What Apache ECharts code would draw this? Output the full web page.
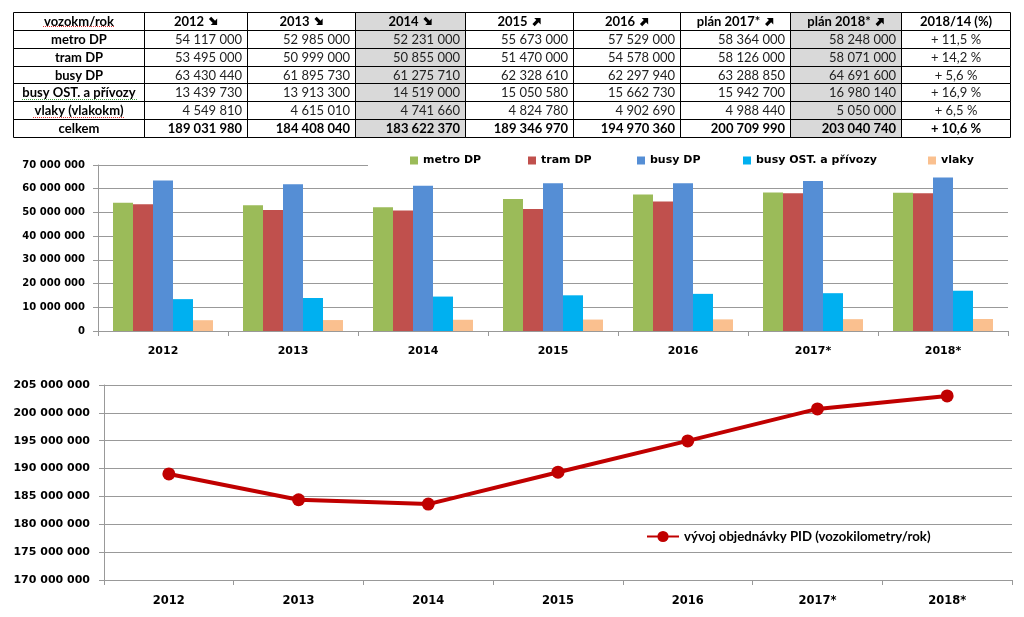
<!DOCTYPE html>
<html>
<head>
<meta charset="utf-8">
<script src="https://cdn.jsdelivr.net/npm/echarts@6/dist/echarts.min.js"></script>
<style>html,body{margin:0;padding:0;background:#fff}#c{width:1024px;height:617px}</style>
</head>
<body>
<div id="c"></div>
<script>
const categories = ['2012','2013','2014','2015','2016','2017*','2018*'];
const tableHeaders = ['vozokm/rok','2012','2013','2014','2015','2016','plán 2017*','plán 2018*','2018/14 (%)'];
const headerTrend = ['', 'down','down','down','up','up','up','up',''];
const rowLabels = ['metro DP','tram DP','busy DP','busy OST. a přívozy','vlaky (vlakokm)','celkem'];
const metroDP = [54117000,52985000,52231000,55673000,57529000,58364000,58248000];
const tramDP  = [53495000,50999000,50855000,51470000,54578000,58126000,58071000];
const busyDP  = [63430440,61895730,61275710,62328610,62297940,63288850,64691600];
const busyOST = [13439730,13913300,14519000,15050580,15662730,15942700,16980140];
const vlaky   = [4549810,4615010,4741660,4824780,4902690,4988440,5050000];
const celkem  = [189031980,184408040,183622370,189346970,194970360,200709990,203040740];
const change1814 = ['+ 11,5 %','+ 14,2 %','+ 5,6 %','+ 16,9 %','+ 6,5 %','+ 10,6 %'];
const barNames = ['metro DP','tram DP','busy DP','busy OST. a přívozy','vlaky'];
const lineName = 'vývoj objednávky PID (vozokilometry/rok)';

const fmt = v => String(v).replace(/\B(?=(\d{3})+(?!\d))/g, ' ');

// ---- table via graphic ----
const colX = [13,144,247,355,465,573,680,790,901,1010];
const rowY = [];
for (let i = 0; i <= 7; i++) rowY.push(Math.round(12 + i * 125 / 7) + 0.5);
const shaded = [3, 7];
const tableRows = [metroDP, tramDP, busyDP, busyOST, vlaky, celkem];
const g = [];
shaded.forEach(ci => {
  g.push({type:'rect', z:10, shape:{x:colX[ci]+0.5, y:rowY[0], width:colX[ci+1]-colX[ci], height:rowY[7]-rowY[0]}, style:{fill:'#d9d9d9'}});
});
for (let r = 0; r < 7; r++) {
  for (let c = 0; c < 9; c++) {
    g.push({type:'rect', z:11, shape:{x:colX[c]+0.5, y:rowY[r], width:colX[c+1]-colX[c], height:rowY[r+1]-rowY[r]}, style:{fill:'none', stroke:'#000', lineWidth:1}});
  }
}
const tFont = 'Lato, "Open Sans", sans-serif';
const mctx = document.createElement('canvas').getContext('2d');
function arrowPoints(cx, cy, dir) {
  const base = [[-5,-1.6],[0.5,-1.6],[0.5,-4.6],[5,0],[0.5,4.6],[0.5,1.6],[-5,1.6]];
  const a = dir === 'down' ? Math.PI/4 : -Math.PI/4;
  const c = Math.cos(a), s = Math.sin(a);
  return base.map(p => [cx + p[0]*c - p[1]*s, cy + p[0]*s + p[1]*c]);
}
function cellText(r, c, text, bold, alignRight, trend) {
  const cy = (rowY[r] + rowY[r+1]) / 2 + 0.5;
  const font = (bold ? 'bold ' : '') + '13px ' + tFont;
  if (trend) {
    mctx.font = font;
    const w = mctx.measureText(text).width;
    const total = w + 5 + 9;
    const x0 = (colX[c] + colX[c+1]) / 2 + 0.5 - total / 2;
    g.push({type:'text', z:12, x:x0, y:cy, style:{text:text, fill:'#000', font:font, align:'left', verticalAlign:'middle', textAlign:'left', textVerticalAlign:'middle'}});
    g.push({type:'polygon', z:12, shape:{points:arrowPoints(x0 + w + 5 + 4.5, cy - 0.5, trend)}, style:{fill:'#000'}});
    return;
  }
  const x = alignRight ? colX[c+1] - 5 : (colX[c] + colX[c+1]) / 2 + 0.5;
  g.push({type:'text', z:12, x:x, y:cy, style:{text:text, fill: bold ? '#000' : '#222', font:font,
    align: alignRight ? 'right' : 'center', verticalAlign:'middle', textAlign: alignRight ? 'right' : 'center', textVerticalAlign:'middle'}});
}
tableHeaders.forEach((h, c) => cellText(0, c, h, true, false, headerTrend[c]));
rowLabels.forEach((lab, r) => {
  const last = r === rowLabels.length - 1;
  cellText(r+1, 0, lab, true, false);
  tableRows[r].forEach((v, c) => cellText(r+1, c+1, fmt(v), last, true));
  cellText(r+1, 8, change1814[r], last, false);
});
// spell-check squiggles under some row labels
[[43,115,26.5,'#e03030'],[22,137,99.5,'#40a040'],[33,125,117.5,'#e03030']].forEach(s => {
  g.push({type:'line', z:12, shape:{x1:s[0], y1:s[2], x2:s[1], y2:s[2]}, style:{stroke:s[3], lineWidth:1, lineDash:[1,1]}});
});
// white box behind bar legend
g.push({type:'rect', z:3, shape:{x:368, y:149, width:644, height:25}, style:{fill:'#fff'}});

const barColors = ['#9bbb59','#c0504d','#558ed5','#00b0f0','#fac08f'];
const legendLeft = [410, 528, 637, 743, 928];
const barData = [metroDP, tramDP, busyDP, busyOST, vlaky];

const axisFont = 'DejaVu Sans';
const legends = barNames.map((n, i) => ({
  data:[n], left:legendLeft[i], top:155, padding:0, itemWidth:8, itemHeight:8, icon:'rect', z:5,
  textStyle:{fontFamily:axisFont, fontWeight:'bold', fontSize:11, color:'#000'}
}));
legends.push({data:[lineName], left:646, top:530, padding:0, itemWidth:32, itemHeight:14,
  textStyle:{fontFamily:'Lato', fontWeight:'bold', fontSize:13.2, color:'#000'}});

const chart = echarts.init(document.getElementById('c'));
chart.setOption({
  animation:false,
  backgroundColor:'#fff',
  graphic: g,
  legend: legends,
  grid:[
    {left:98, right:16, top:165, bottom:286},
    {left:104, right:12, top:385, bottom:37}
  ],
  xAxis:[
    {type:'category', gridIndex:0, data:categories, boundaryGap:true,
     axisLine:{lineStyle:{color:'#999'}}, axisTick:{show:true, length:5, lineStyle:{color:'#999'}},
     axisLabel:{margin:15, fontFamily:axisFont, fontWeight:'bold', fontSize:11, color:'#000'}},
    {type:'category', gridIndex:1, data:categories, boundaryGap:true,
     axisLine:{lineStyle:{color:'#999'}}, axisTick:{show:true, length:5, lineStyle:{color:'#999'}},
     axisLabel:{margin:15, fontFamily:axisFont, fontWeight:'bold', fontSize:11.5, color:'#000'}}
  ],
  yAxis:[
    {type:'value', gridIndex:0, min:0, max:70000000, interval:10000000,
     axisLine:{show:true, lineStyle:{color:'#999'}}, axisTick:{show:true, length:5, lineStyle:{color:'#999'}},
     splitLine:{lineStyle:{color:'#999'}},
     axisLabel:{margin:13, formatter:fmt, fontFamily:axisFont, fontWeight:'bold', fontSize:10, color:'#000'}},
    {type:'value', gridIndex:1, min:170000000, max:205000000, interval:5000000,
     axisLine:{show:true, lineStyle:{color:'#999'}}, axisTick:{show:true, length:5, lineStyle:{color:'#999'}},
     splitLine:{lineStyle:{color:'#999'}},
     axisLabel:{margin:14, formatter:fmt, fontFamily:axisFont, fontWeight:'bold', fontSize:11, color:'#000'}}
  ],
  series: barNames.map((n, i) => ({
    name:n, type:'bar', xAxisIndex:0, yAxisIndex:0, data:barData[i], barWidth:20, barGap:'0%',
    itemStyle:{color:barColors[i]}
  })).concat([{
    name:lineName, type:'line', xAxisIndex:1, yAxisIndex:1, data:celkem,
    symbol:'circle', symbolSize:13, lineStyle:{color:'#c00000', width:4}, itemStyle:{color:'#c00000'}
  }])
});
</script>
</body>
</html>
